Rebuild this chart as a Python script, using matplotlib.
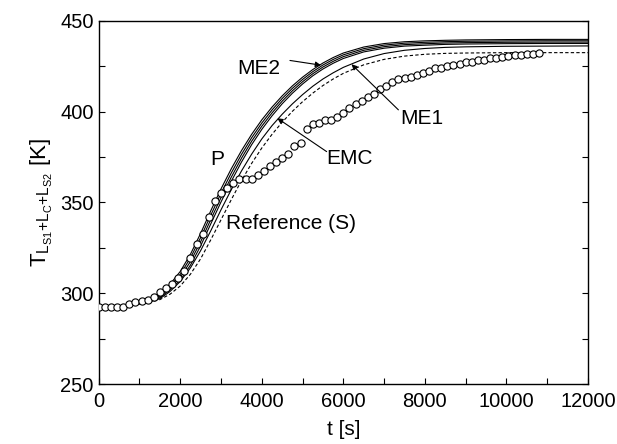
import numpy as np
import matplotlib
matplotlib.use("Agg")
import matplotlib.pyplot as plt

plt.rcParams['font.family'] = ['Liberation Sans', 'DejaVu Sans']
plt.rcParams['mathtext.fontset'] = 'custom'
plt.rcParams['mathtext.rm'] = 'Liberation Sans'
plt.rcParams['mathtext.it'] = 'Liberation Sans'

# =============================================================================
# Data
# =============================================================================
# measured temperatures (circles), every 150 s
t_meas = [0, 150, 300, 450, 600, 750, 900, 1050, 1200, 1350,
          1500, 1650, 1800, 1950, 2100, 2250, 2400, 2550, 2700, 2850,
          3000, 3150, 3300, 3450, 3600, 3750, 3900, 4050, 4200, 4350,
          4500, 4650, 4800, 4950, 5100, 5250, 5400, 5550, 5700, 5850,
          6000, 6150, 6300, 6450, 6600, 6750, 6900, 7050, 7200, 7350,
          7500, 7650, 7800, 7950, 8100, 8250, 8400, 8550, 8700, 8850,
          9000, 9150, 9300, 9450, 9600, 9750, 9900, 10050, 10200, 10350,
          10500, 10650, 10800]
T_meas = [292.6, 292.6, 292.6, 292.6, 292.6, 294.0, 295.0, 296.0, 296.5, 297.7,
          300.5, 303.0, 305.0, 308.5, 312.5, 319.5, 327.0, 332.5, 342.0, 351.0,
          355.0, 358.0, 360.5, 363.0, 363.0, 363.0, 365.0, 367.5, 370.0, 372.5,
          374.5, 376.5, 381.0, 383.0, 390.5, 393.0, 393.5, 395.3, 395.5, 397.0,
          399.5, 402.0, 404.0, 406.0, 408.0, 409.8, 412.3, 414.2, 416.5, 417.8,
          418.3, 419.0, 420.3, 421.5, 422.5, 423.8, 424.3, 425.0, 425.8, 426.5,
          427.2, 427.6, 428.2, 428.7, 429.3, 429.8, 430.2, 430.6, 431.0, 431.3,
          431.7, 432.0, 432.4]

# model curves
t_model = [0, 500, 1000, 1250, 1500, 1750, 2000, 2250, 2500, 2750,
           3000, 3250, 3500, 3750, 4000, 4250, 4500, 4750, 5000, 5250,
           5500, 5750, 6000, 6500, 7000, 7500, 8000, 8500, 9000, 10000,
           11000, 12000]
T_P = [293, 293, 294.5, 296, 299, 305, 312, 321.5, 333, 345.5,
       357.5, 368.5, 378.5, 387.5, 395.5, 402.5, 408.7, 414.2, 419, 423.2,
       426.8, 429.8, 432.3, 435.6, 437.5, 438.5, 439.0, 439.3, 439.5, 439.7,
       439.8, 439.8]
T_ME2a = [293, 293, 294.5, 295.8, 298.5, 304.0, 310.4, 319.5, 330.7, 343.1,
          355.1, 366.2, 376.4, 385.6, 393.75, 400.9, 407.25, 412.85, 417.75, 422.05,
          425.7, 428.75, 431.3, 434.7, 436.65, 437.7, 438.2, 438.55, 438.75, 438.95,
          439.05, 439.05]
T_ME2b = [293, 293, 294.5, 295.6, 298.0, 303.0, 308.8, 317.5, 328.4, 340.7,
          352.7, 363.9, 374.3, 383.7, 392.0, 399.3, 405.8, 411.5, 416.5, 420.9,
          424.6, 427.7, 430.3, 433.8, 435.8, 436.9, 437.4, 437.8, 438.0, 438.2,
          438.3, 438.3]
T_EMC = [293, 293, 294.5, 295.4, 297.5, 302.0, 307.2, 315.5, 326.1, 338.3,
         350.3, 361.6, 372.2, 381.8, 390.25, 397.7, 404.35, 410.15, 415.25, 419.75,
         423.5, 426.65, 429.3, 432.9, 434.95, 436.1, 436.6, 437.05, 437.25, 437.45,
         437.55, 437.55]
T_ME1 = [293, 293, 294.3, 295.2, 297, 301, 306.5, 314, 323.5, 334.5,
         346, 357, 367.3, 376.6, 385, 392.3, 398.6, 404.3, 409.4, 414,
         418, 421.4, 424.4, 429, 432, 433.8, 434.8, 435.4, 435.7, 436,
         436.1, 436.2]
T_ref = [293, 293, 294, 295, 296.5, 299.5, 304, 310.5, 319, 329.5,
         340.5, 351.5, 362, 371.5, 380, 387.5, 394.2, 400.2, 405.5, 410.2,
         414.4, 418, 421.1, 425.8, 428.8, 430.6, 431.6, 432.1, 432.3, 432.5,
         432.5, 432.5]

# =============================================================================
# Plotting
# =============================================================================
fig = plt.figure(figsize=(6.17, 4.44), dpi=100)
ax = fig.add_axes([0.160, 0.135, 0.793, 0.818])

for T in [T_P, T_ME2a, T_ME2b, T_EMC, T_ME1]:
    ax.plot(t_model, T, color='k', lw=0.8, zorder=2)
ax.plot(t_model, T_ref, color='k', lw=0.8, ls=(0, (3, 2)), zorder=2)
ax.plot(t_meas, T_meas, ls='none', marker='o', ms=5.2, mfc='white',
        mec='k', mew=0.8, zorder=3)

ax.set_xlim(0, 12000)
ax.set_ylim(250, 450)
ax.set_xticks(np.arange(0, 12001, 2000))
ax.set_xticks(np.arange(0, 12001, 1000), minor=True)
ax.set_yticks(np.arange(250, 451, 50))
ax.set_yticks(np.arange(250, 451, 25), minor=True)
ax.tick_params(which='both', direction='in', length=4, width=0.8,
               labelsize=14.5, right=True, top=False)
ax.tick_params(axis='x', pad=6)
for s in ax.spines.values():
    s.set_linewidth(1.0)

ax.set_xlabel('t [s]', fontsize=15, labelpad=6)
ax.set_ylabel(r'$\mathrm{T_{L_{S1}{+}L_{C}{+}L_{S2}}}$ [K]', fontsize=16)

# -----------------------------------------------------------------------------
# Labels and arrows
# -----------------------------------------------------------------------------
arrow = dict(arrowstyle='-|>', lw=0.8, color='k', mutation_scale=8,
             shrinkA=0, shrinkB=0)
ax.annotate('', xy=(5450, 425.6), xytext=(4690, 428.2), arrowprops=arrow)
ax.text(3400, 423.5, 'ME2', fontsize=15, va='center')
ax.annotate('', xy=(6200, 426.1), xytext=(7350, 401), arrowprops=arrow)
ax.text(7390, 396.5, 'ME1', fontsize=15, va='center')
ax.annotate('', xy=(4380, 396.4), xytext=(5590, 378), arrowprops=arrow)
ax.text(5590, 374.4, 'EMC', fontsize=15, va='center')
ax.text(2900, 373.4, 'P', fontsize=15, ha='center', va='center')
ax.text(3130, 338.5, 'Reference (S)', fontsize=15, va='center')

fig.savefig('out.png', dpi=100)
